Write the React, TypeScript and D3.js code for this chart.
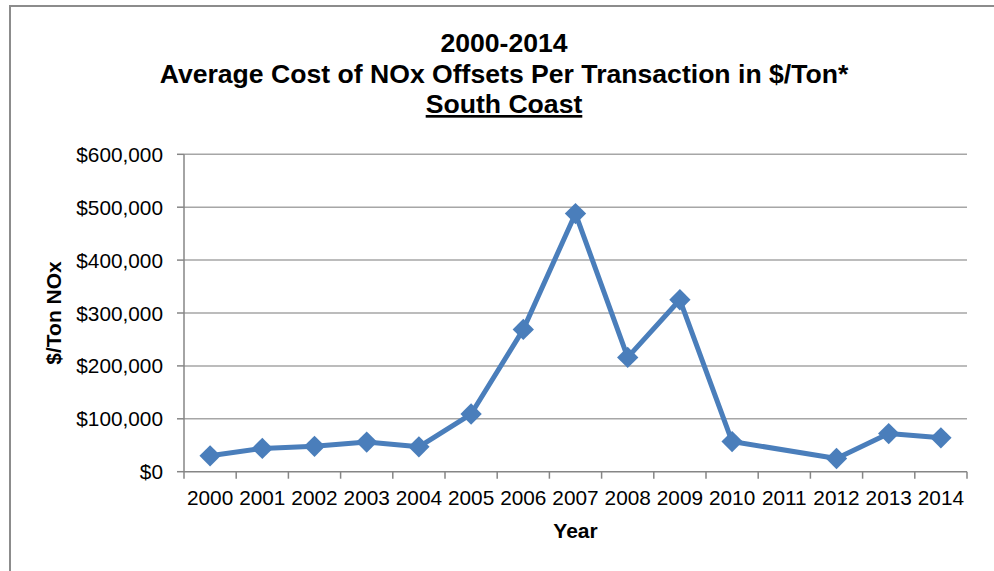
import React from "react";
import * as d3 from "d3";

const years = ["2000","2001","2002","2003","2004","2005","2006","2007","2008","2009","2010","2011","2012","2013","2014"];
const costs: (number | null)[] = [30000, 44000, 48000, 56000, 47000, 109000, 269000, 488000, 216000, 325000, 57000, null, 25000, 72000, 64000];
const yTicks = [0, 100000, 200000, 300000, 400000, 500000, 600000];
const titleLines = ["2000-2014", "Average Cost of NOx Offsets Per Transaction in $/Ton*", "South Coast"];

const W = 994, H = 571;
const left = 184, right = 967, top = 154.3, bottom = 471.7;
const blue = "#4A7EBB";
const font = "Arial, 'Liberation Sans', sans-serif";

export default function App() {
  const x = d3.scaleBand<string>().domain(years).range([left, right]).paddingInner(0).paddingOuter(0);
  const y = d3.scaleLinear().domain([0, 600000]).range([bottom, top]);
  const fmt = (v: number) => "$" + d3.format(",")(v);
  const pts = years
    .map((yr, i) => ({ yr, v: costs[i] }))
    .filter((d) => d.v !== null) as { yr: string; v: number }[];
  const line = d3
    .line<{ yr: string; v: number }>()
    .x((d) => (x(d.yr) as number) + x.bandwidth() / 2)
    .y((d) => y(d.v));
  const diamond = d3.symbol().type(d3.symbolDiamond2).size(290)();
  const bounds = [...years.map((yr) => x(yr) as number), right];
  const cx = 504;
  return (
    <svg width={W} height={H} style={{ position: "absolute", left: 0, top: 0, background: "#fff" }} fontFamily={font}>
      <rect x={0} y={0} width={W} height={H} fill="#fff" />
      <line x1={10} y1={6} x2={W} y2={6} stroke="#8c8c8c" strokeWidth={2} />
      <line x1={10} y1={5} x2={10} y2={H} stroke="#8c8c8c" strokeWidth={2} />
      {/* title */}
      <text x={cx} y={52} textAnchor="middle" fontWeight="bold" fontSize={26.6} fill="#000">{titleLines[0]}</text>
      <text x={cx} y={83} textAnchor="middle" fontWeight="bold" fontSize={26.6} fill="#000">{titleLines[1]}</text>
      <text x={cx} y={113} textAnchor="middle" fontWeight="bold" fontSize={26.6} fill="#000" textDecoration="underline">{titleLines[2]}</text>
      {/* gridlines & y ticks */}
      {yTicks.map((t) => (
        <g key={t}>
          {t > 0 && <line x1={left} x2={right} y1={y(t)} y2={y(t)} stroke="#a6a6a6" strokeWidth={1.5} />}
          <line x1={left - 7} x2={left} y1={y(t)} y2={y(t)} stroke="#868686" strokeWidth={1.5} />
          <text x={163} y={y(t)} textAnchor="end" dominantBaseline="central" fontSize={20.8} fill="#000">{fmt(t)}</text>
        </g>
      ))}
      {/* axes */}
      <line x1={left} x2={left} y1={top} y2={bottom} stroke="#868686" strokeWidth={1.5} />
      <line x1={left} x2={right} y1={bottom} y2={bottom} stroke="#868686" strokeWidth={1.5} />
      {bounds.map((b, i) => (
        <line key={i} x1={b} x2={b} y1={bottom} y2={bottom + 7} stroke="#868686" strokeWidth={1.5} />
      ))}
      {years.map((yr) => (
        <text key={yr} x={(x(yr) as number) + x.bandwidth() / 2} y={505} textAnchor="middle" fontSize={20.8} fill="#000">{yr}</text>
      ))}
      {/* axis titles */}
      <text x={(left + right) / 2} y={538} textAnchor="middle" fontWeight="bold" fontSize={21} fill="#000">Year</text>
      <text transform={`translate(53,${(top + bottom) / 2}) rotate(-90)`} textAnchor="middle" dominantBaseline="central" fontWeight="bold" fontSize={21} fill="#000">$/Ton NOx</text>
      {/* series */}
      <path d={line(pts) || ""} fill="none" stroke={blue} strokeWidth={5} strokeLinejoin="round" />
      {pts.map((d) => (
        <path key={d.yr} d={diamond || ""} transform={`translate(${(x(d.yr) as number) + x.bandwidth() / 2},${y(d.v)})`} fill={blue} />
      ))}
    </svg>
  );
}
